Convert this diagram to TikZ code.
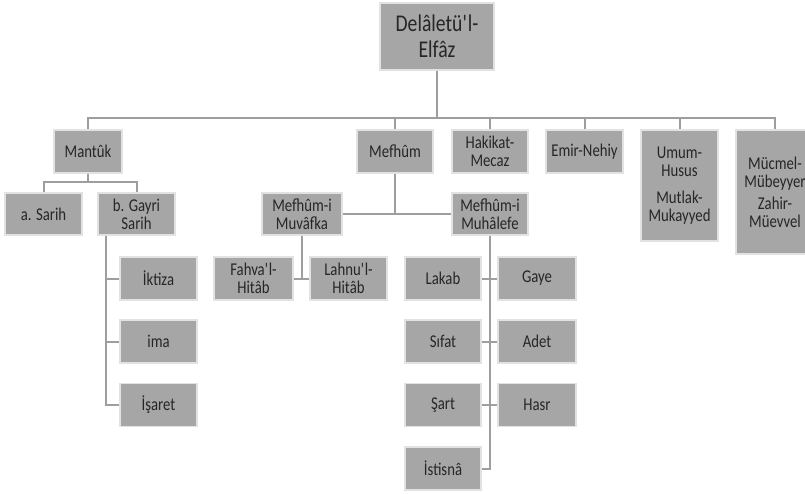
\documentclass[tikz,border=0pt]{standalone}
\usepackage{fontspec}
\setmainfont{Carlito}[FakeStretch=0.82]
\definecolor{boxgray}{HTML}{A6A6A6}
\definecolor{linegray}{HTML}{9E9E9E}
\definecolor{edgegray}{HTML}{E2E2E2}
\begin{document}
\begin{tikzpicture}[x=1pt,y=-1pt,
  box/.style={draw=edgegray, line width=1.3pt, fill=boxgray, inner sep=0pt, align=center,
    font=\fontsize{18}{18}\selectfont, text=black!85, minimum width=77pt, minimum height=43pt},
  link/.style={draw=linegray, line width=2pt}]
\useasboundingbox (0,0) rectangle (805,493);
% root
\node[box, minimum width=114pt, minimum height=67pt, font=\fontsize{24}{26}\selectfont] (root) at (437,36.5) {Delâletü\textquotesingle l-\\Elfâz};
% top row
\node[box, minimum width=68pt] (mantuk) at (88,151.5) {Mantûk};
\node[box, minimum width=76pt] (mefhum) at (395,151.5) {Mefhûm};
\node[box, minimum width=76pt] (hakikat) at (490,151.5) {Hakikat-\\Mecaz};
\node[box] (emir) at (584.5,151.5) {Emir-Nehiy};
\node[box, minimum height=111pt] (umum) at (679.5,185.5) {Umum-\\Husus\\[9pt]Mutlak-\\Mukayyed};
\node[box, minimum width=78pt, minimum height=124pt] (mucmel) at (775,192) {Mücmel-\\Mübeyyer\\[4pt]Zahir-\\Müevvel};
% mantuk children
\node[box, minimum height=42pt] (asarih) at (43.5,214) {a. Sarih};
\node[box, minimum height=42pt] (gsarih) at (136.5,214) {b. Gayri\\Sarih};
\node[box] (iktiza) at (158.5,278.5) {İktiza};
\node[box] (ima) at (158.5,341.5) {ima};
\node[box] (isaret) at (158.5,405) {İşaret};
% mefhum children
\node[box, minimum width=80pt, minimum height=42pt] (muv) at (302,214) {Mefhûm-i\\Muvâfka};
\node[box, minimum width=76pt, minimum height=42pt] (muh) at (490,214) {Mefhûm-i\\Muhâlefe};
\node[box, minimum width=79pt] (fahva) at (253.5,278.5) {Fahva\textquotesingle l-\\Hitâb};
\node[box] (lahnu) at (348.5,278.5) {Lahnu\textquotesingle l-\\Hitâb};
\node[box, minimum width=76pt] (lakab) at (443,278.5) {Lakab};
\node[box, minimum width=78pt] (gaye) at (537,278.5) {Gaye};
\node[box, minimum width=76pt] (sifat) at (443,341.5) {Sıfat};
\node[box, minimum width=78pt] (adet) at (537,341.5) {Adet};
\node[box, minimum width=76pt] (sart) at (443,405) {Şart};
\node[box, minimum width=78pt] (hasr) at (537,405) {Hasr};
\node[box, minimum width=76pt] (istisna) at (443,468.5) {İstisnâ};
% connectors
\foreach \c in {mantuk,mefhum,hakikat,emir,umum,mucmel}
  \draw[link] (root.south) -- ++(0,47) -| (\c.north);
\foreach \c in {asarih,gsarih}
  \draw[link] (mantuk.south) -- ++(0,8) -| (\c.north);
\foreach \c in {iktiza,ima,isaret}
  \draw[link] ([xshift=-30.5pt]gsarih.south) |- (\c.west);
\draw[link] (mefhum.south) -- (mefhum.south |- muv.east);
\draw[link] (muv.east) -- (muh.west);
\draw[link] (muv.south) -- (muv.south |- fahva.east);
\draw[link] (fahva.east) -- (lahnu.west);
\draw[link] (muh.south) |- (istisna.east);
\draw[link] (lakab.east) -- (gaye.west);
\draw[link] (sifat.east) -- (adet.west);
\draw[link] (sart.east) -- (hasr.west);
\end{tikzpicture}
\end{document}
